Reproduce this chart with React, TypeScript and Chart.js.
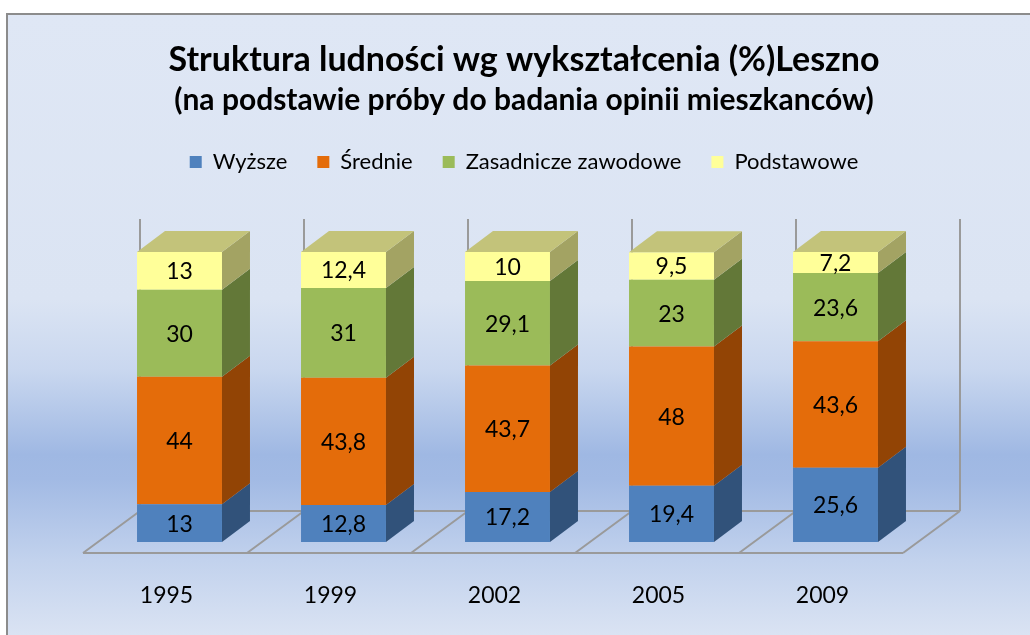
import React, { useEffect, useRef } from "react";
import { Chart, registerables } from "chart.js";

Chart.register(...registerables);

const categories = ["1995", "1999", "2002", "2005", "2009"];
const wyzsze = [13, 12.8, 17.2, 19.4, 25.6];
const srednie = [44, 43.8, 43.7, 48, 43.6];
const zasadnicze = [30, 31, 29.1, 23, 23.6];
const podstawowe = [13, 12.4, 10, 9.5, 7.2];
const seriesNames = ["Wyższe", "Średnie", "Zasadnicze zawodowe", "Podstawowe"];
const seriesValues = [wyzsze, srednie, zasadnicze, podstawowe];
const frontColors = ["#4f81bd", "#e46c0a", "#9bbb59", "#ffff99"];
const sideColors = ["#31527a", "#924405", "#637838", "#a3a363"];
const topColor = "#c3c37a";

const DEPTH_X = 28;
const DEPTH_Y = -21;
const FLOOR_FRONT_DX = -14.5;
const FLOOR_FRONT_DY = 11;
const FLOOR_BACK_DX = 42.5;
const FLOOR_BACK_DY = -31;
const WALL_TOP_DY = -33;
const FONT = "Lato";

const scenePlugin = {
  id: "scene3d",
  beforeDraw(chart: any) {
    const { ctx, width, height } = chart;
    ctx.save();
    ctx.fillStyle = "#ffffff";
    ctx.fillRect(0, 0, width, height);
    const g = ctx.createLinearGradient(0, 13, 0, height);
    g.addColorStop(0, "#dfe7f5");
    g.addColorStop(0.46, "#dbe4f3");
    g.addColorStop(0.574, "#c9d7ef");
    g.addColorStop(0.71, "#9fb8e3");
    g.addColorStop(0.75, "#a2bae4");
    g.addColorStop(0.88, "#c2d2ed");
    g.addColorStop(1, "#dae3f3");
    ctx.fillStyle = g;
    ctx.fillRect(7, 13, width - 7, height - 13);
    ctx.fillStyle = "#8c8c8c";
    ctx.fillRect(6, 13, width - 6, 2);
    ctx.fillRect(6, 13, 2, height - 13);
    ctx.restore();
  },
  beforeDatasetsDraw(chart: any) {
    const { ctx, chartArea, scales } = chart;
    const y0 = scales.y.getPixelForValue(0);
    const y100 = scales.y.getPixelForValue(100);
    const n = categories.length;
    const catW = (chartArea.right - chartArea.left) / n;
    ctx.save();
    ctx.strokeStyle = "#9a9a9a";
    ctx.lineWidth = 2;
    ctx.beginPath();
    const l = chartArea.left;
    const r = chartArea.right;
    ctx.moveTo(l + FLOOR_FRONT_DX, y0 + FLOOR_FRONT_DY);
    ctx.lineTo(r + FLOOR_FRONT_DX, y0 + FLOOR_FRONT_DY);
    ctx.moveTo(l + FLOOR_BACK_DX, y0 + FLOOR_BACK_DY);
    ctx.lineTo(r + FLOOR_BACK_DX, y0 + FLOOR_BACK_DY);
    for (let k = 0; k <= n; k++) {
      const bx = l + k * catW;
      ctx.moveTo(bx + FLOOR_FRONT_DX, y0 + FLOOR_FRONT_DY);
      ctx.lineTo(bx + FLOOR_BACK_DX, y0 + FLOOR_BACK_DY);
      ctx.moveTo(bx + FLOOR_BACK_DX, y0 + FLOOR_BACK_DY);
      ctx.lineTo(bx + FLOOR_BACK_DX, y100 + WALL_TOP_DY);
    }
    ctx.stroke();
    ctx.restore();
  },
  afterDatasetsDraw(chart: any) {
    const { ctx } = chart;
    const nd = chart.data.datasets.length;
    ctx.save();
    for (let d = 0; d < nd; d++) {
      const meta = chart.getDatasetMeta(d);
      meta.data.forEach((bar: any) => {
        const p = bar.getProps(["x", "y", "base", "width"], true);
        const right = p.x + p.width / 2;
        const top = Math.min(p.y, p.base);
        const bottom = Math.max(p.y, p.base);
        ctx.fillStyle = sideColors[d];
        ctx.beginPath();
        ctx.moveTo(right, bottom);
        ctx.lineTo(right, top);
        ctx.lineTo(right + DEPTH_X, top + DEPTH_Y);
        ctx.lineTo(right + DEPTH_X, bottom + DEPTH_Y);
        ctx.closePath();
        ctx.fill();
      });
    }
    const lastMeta = chart.getDatasetMeta(nd - 1);
    lastMeta.data.forEach((bar: any) => {
      const p = bar.getProps(["x", "y", "base", "width"], true);
      const left = p.x - p.width / 2;
      const right = p.x + p.width / 2;
      const top = Math.min(p.y, p.base);
      ctx.fillStyle = topColor;
      ctx.beginPath();
      ctx.moveTo(left, top);
      ctx.lineTo(left + DEPTH_X, top + DEPTH_Y);
      ctx.lineTo(right + DEPTH_X, top + DEPTH_Y);
      ctx.lineTo(right, top);
      ctx.closePath();
      ctx.fill();
    });
    ctx.fillStyle = "#000000";
    ctx.font = `23px ${FONT}`;
    ctx.textAlign = "center";
    ctx.textBaseline = "middle";
    for (let d = 0; d < nd; d++) {
      const meta = chart.getDatasetMeta(d);
      meta.data.forEach((bar: any, i: number) => {
        const p = bar.getProps(["x", "y", "base"], true);
        const v = chart.data.datasets[d].data[i];
        const txt = String(v).replace(".", ",");
        ctx.fillText(txt, p.x, (p.y + p.base) / 2 + 1);
      });
    }
    ctx.restore();
  },
};

const hiddenAxis = {
  display: true,
  grid: { display: false, drawTicks: false },
  border: { display: false },
  ticks: { display: false },
};

export default function App() {
  const ref = useRef<HTMLCanvasElement | null>(null);
  useEffect(() => {
    document.body.style.margin = "0";
    if (!ref.current) return;
    const chart = new Chart(ref.current, {
      type: "bar",
      data: {
        labels: categories,
        datasets: seriesValues.map((vals, i) => ({
          label: seriesNames[i],
          data: vals,
          backgroundColor: frontColors[i],
          borderWidth: 0,
          categoryPercentage: 1,
          barPercentage: 0.518,
        })),
      },
      options: {
        responsive: false,
        animation: false,
        devicePixelRatio: 1,
        events: [],
        layout: { padding: { top: 14, left: 18, right: 0, bottom: 0 } },
        plugins: {
          tooltip: { enabled: false },
          title: {
            display: true,
            text: "Struktura ludności wg wykształcenia (%)Leszno",
            color: "#000",
            font: { family: FONT, size: 34, weight: "bold" },
            padding: { top: 25.6, bottom: 0 },
          },
          subtitle: {
            display: true,
            text: "(na podstawie próby do badania opinii mieszkanców)",
            color: "#000",
            font: { family: FONT, size: 30, weight: "bold" },
            padding: { top: 1.6, bottom: 3.0 },
          },
          legend: {
            display: true,
            position: "top",
            labels: {
              boxWidth: 12,
              boxHeight: 12,
              color: "#000",
              font: { family: FONT, size: 22 },
              padding: 30,
            },
          },
        },
        scales: {
          x: {
            stacked: true,
            grid: { display: false, drawTicks: false },
            border: { display: false },
            ticks: { color: "#000", font: { family: FONT, size: 23 }, padding: 40, labelOffset: -13 },
            afterFit: (s: any) => {
              s.height = 93;
            },
          },
          y: {
            stacked: true,
            min: 0,
            max: 100,
            ...hiddenAxis,
            afterFit: (s: any) => {
              s.width = 79.5;
            },
          },
          yr: {
            type: "linear",
            position: "right",
            ...hiddenAxis,
            afterFit: (s: any) => {
              s.width = 112.5;
            },
          },
          xt: {
            type: "linear",
            position: "top",
            ...hiddenAxis,
            afterFit: (s: any) => {
              s.height = 69;
            },
          },
        },
      },
      plugins: [scenePlugin],
    } as any);
    return () => chart.destroy();
  }, []);
  return (
    <div style={{ width: 1030, height: 635 }}>
      <canvas ref={ref} width={1030} height={635} style={{ display: "block" }} />
    </div>
  );
}
